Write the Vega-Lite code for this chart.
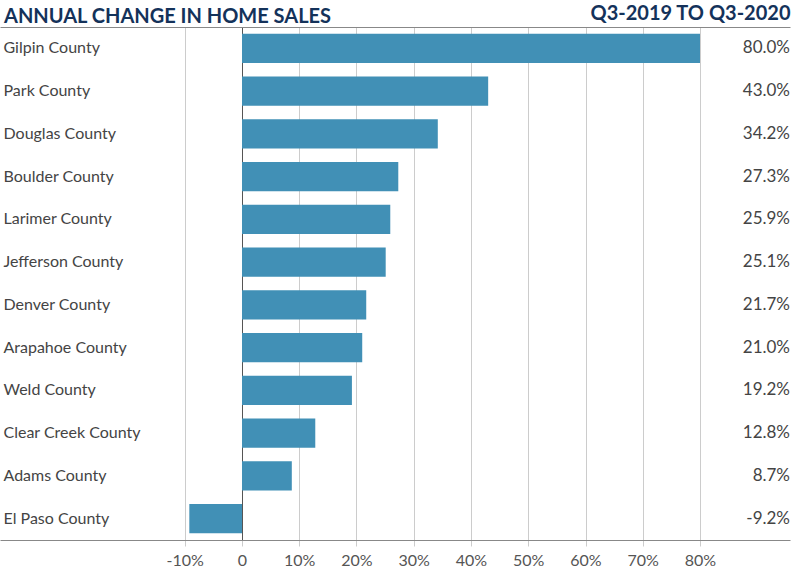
{
  "$schema": "https://vega.github.io/schema/vega-lite/v6.json",
  "width": 790,
  "height": 513,
  "autosize": {"type": "none"},
  "padding": {"left": 0, "top": 27, "right": 10, "bottom": 40},
  "background": "white",
  "config": {"view": {"stroke": null}, "font": "Lato"},
  "title": {"text": "ANNUAL CHANGE IN HOME SALES", "anchor": "start", "frame": "group", "fontSize": 20, "fontWeight": "bold", "color": "#14325a", "offset": 5, "dy": 29, "dx": 4, "limit": 400, "font": "Lato"},
  "data": {"values": [
    {"county": "Gilpin County", "value": 80.0, "label": "80.0%"},
    {"county": "Park County", "value": 43.0, "label": "43.0%"},
    {"county": "Douglas County", "value": 34.2, "label": "34.2%"},
    {"county": "Boulder County", "value": 27.3, "label": "27.3%"},
    {"county": "Larimer County", "value": 25.9, "label": "25.9%"},
    {"county": "Jefferson County", "value": 25.1, "label": "25.1%"},
    {"county": "Denver County", "value": 21.7, "label": "21.7%"},
    {"county": "Arapahoe County", "value": 21.0, "label": "21.0%"},
    {"county": "Weld County", "value": 19.2, "label": "19.2%"},
    {"county": "Clear Creek County", "value": 12.8, "label": "12.8%"},
    {"county": "Adams County", "value": 8.7, "label": "8.7%"},
    {"county": "El Paso County", "value": -9.2, "label": "-9.2%"}
  ]},
  "layer": [
    {
      "mark": {"type": "bar", "color": "#4190b6"},
      "encoding": {
        "y": {"field": "county", "type": "nominal", "sort": null,
          "scale": {"paddingInner": 0.32, "paddingOuter": 0.16},
          "axis": {"title": null, "domain": false, "ticks": false, "labelAlign": "left", "labelPadding": -3, "labelFontSize": 16, "labelColor": "#444", "labelFont": "Lato", "labelLimit": 300}},
        "x": {"field": "value", "type": "quantitative",
          "scale": {"domain": [-42.27, 95.72], "nice": false, "zero": false},
          "axis": {"orient": "bottom", "title": null, "values": [-10, 0, 10, 20, 30, 40, 50, 60, 70, 80],
            "labelExpr": "datum.value == 0 ? '0' : datum.value + '%'",
            "labelFontSize": 16, "labelColor": "#555", "labelFont": "Lato", "labelPadding": 6,
            "grid": true, "gridColor": {"condition": {"test": "datum.value === 0", "value": "#555"}, "value": "#cccccc"},
            "gridWidth": 1, "tickSize": 6, "tickColor": "#cccccc", "domainColor": "#888", "labelFlush": false}}
      }
    },
    {
      "mark": {"type": "text", "align": "right", "baseline": "middle", "fontSize": 17, "color": "#444", "font": "Lato"},
      "encoding": {
        "y": {"field": "county", "type": "nominal", "sort": null},
        "x": {"datum": 95.72, "type": "quantitative",
          "axis": {"orient": "top", "labels": false, "ticks": false, "grid": false, "domain": true, "domainColor": "#888",
            "title": "Q3-2019 TO Q3-2020", "titleAnchor": "end", "titleAlign": "right", "titleFontSize": 20, "titleFontWeight": "bold", "titleColor": "#14325a", "titleFont": "Lato", "titlePadding": 4}},
        "text": {"field": "label"}
      }
    }
  ],
  "resolve": {"axis": {"x": "independent"}}
}
